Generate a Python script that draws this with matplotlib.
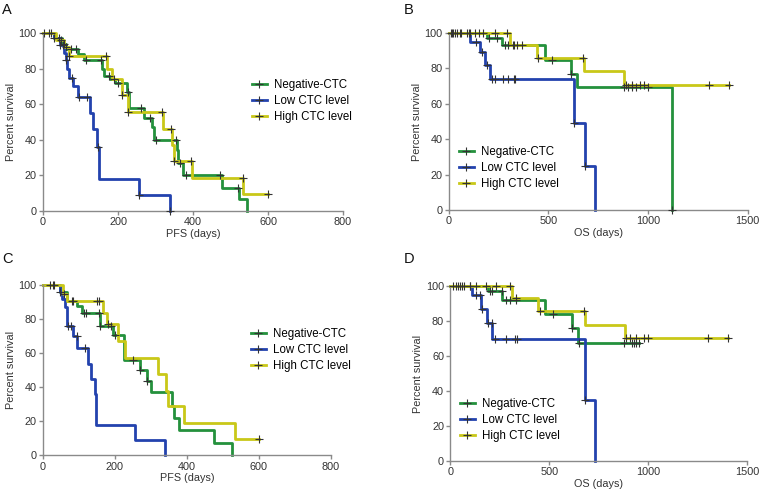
import matplotlib
matplotlib.use('Agg')
from matplotlib import pyplot as plt
from matplotlib.lines import Line2D
import numpy as np

plt.rcParams['font.family'] = ['Liberation Sans', 'DejaVu Sans']

labels = ['Negative-CTC', 'Low CTC level', 'High CTC level']
colors = ['#24913c', '#2342ae', '#c9c818']

# panel A: PFS, all patients  (event days, survival after event, censor days)
A_neg_t = [28, 50, 62, 92, 110, 157, 163, 179, 192, 223, 228, 268, 290, 296, 357, 361, 374, 476, 523, 543]
A_neg_s = [97, 94, 91, 88, 85, 80, 76, 74, 72, 67, 58, 52, 47, 40, 34, 27, 20, 13, 7, 0]
A_neg_c = [3, 15, 28, 42, 55, 75, 88, 115, 155, 175, 188, 200, 226, 262, 285, 300, 355, 365, 380, 472, 520]
A_low_t = [30, 45, 55, 60, 65, 70, 80, 92, 126, 134, 144, 148, 257, 339]
A_low_s = [97, 93, 89, 85, 80, 75, 70, 64, 55, 46, 36, 18, 9, 0]
A_low_c = [20, 45, 52, 62, 78, 95, 117, 146, 257, 339]
A_high_t = [35, 55, 68, 170, 184, 210, 226, 321, 343, 348, 396, 534]
A_high_s = [96, 92, 87, 80, 74, 65, 55.5, 46, 37, 28, 18.5, 9.5]
A_high_c = [48, 62, 70, 168, 210, 226, 318, 340, 348, 394, 532, 600]

# panel B: OS, all patients
B_neg_t = [192, 267, 485, 615, 644, 1120]
B_neg_s = [97, 93, 85, 77, 69.5, 0]
B_neg_c = [10, 20, 40, 60, 90, 100, 200, 240, 280, 300, 330, 370, 520, 615, 880, 900, 920, 940, 1000, 1120]
B_low_t = [109, 158, 184, 209, 627, 686, 736]
B_low_s = [95, 89, 82, 74, 49, 25, 0]
B_low_c = [135, 165, 190, 215, 230, 270, 300, 330, 335, 627, 686]
B_high_t = [309, 443, 677, 878]
B_high_s = [93, 86, 78.5, 70.5]
B_high_c = [15, 30, 55, 105, 130, 150, 170, 230, 290, 325, 345, 450, 675, 890, 920, 960, 980, 1304, 1405]

# panel C: PFS, subgroup
C_neg_t = [48, 67, 94, 108, 159, 196, 226, 270, 289, 300, 358, 364, 378, 476, 524]
C_neg_s = [96, 91, 88, 84, 76, 71, 56, 50, 44, 37, 29, 22, 15, 7, 0]
C_neg_c = [28, 48, 80, 85, 115, 120, 155, 160, 190, 200, 250, 270, 289]
C_low_t = [48, 53, 62, 67, 83, 96, 127, 133, 145, 148, 256, 338]
C_low_s = [96, 92, 87, 76, 70, 63, 54, 45, 36, 18, 9, 0]
C_low_c = [20, 30, 70, 78, 94, 118]
C_high_t = [57, 67, 168, 178, 210, 228, 319, 341, 349, 393, 534]
C_high_s = [95, 91, 84, 77, 67, 57.5, 48, 38, 29, 19, 9.5]
C_high_c = [60, 150, 155, 182, 600]

# panel D: OS, subgroup
D_neg_t = [190, 261, 480, 615, 644]
D_neg_s = [97, 92, 84, 76, 67.5]
D_neg_c = [15, 40, 60, 100, 200, 210, 260, 280, 300, 330, 520, 615, 650, 880, 920, 930, 940, 952]
D_low_t = [110, 157, 185, 211, 683, 733]
D_low_s = [95, 87, 79, 69.5, 35, 0]
D_low_c = [130, 150, 160, 190, 210, 225, 280, 325, 335, 683]
D_high_t = [312, 443, 683, 881]
D_high_s = [93, 86, 78, 70.5]
D_high_c = [30, 50, 70, 100, 130, 180, 230, 300, 330, 455, 675, 890, 910, 940, 980, 1000, 1304, 1405]

panels = [
    ('A', 'PFS (days)', 800, [0, 200, 400, 600, 800],
     [(A_neg_t, A_neg_s, A_neg_c), (A_low_t, A_low_s, A_low_c), (A_high_t, A_high_s, A_high_c)],
     [43, 33, 343, 211], (252, 79)),
    ('B', 'OS (days)', 1500, [0, 500, 1000, 1500],
     [(B_neg_t, B_neg_s, B_neg_c), (B_low_t, B_low_s, B_low_c), (B_high_t, B_high_s, B_high_c)],
     [448.7, 33, 747.7, 210], (459, 146)),
    ('C', 'PFS (days)', 800, [0, 200, 400, 600, 800],
     [(C_neg_t, C_neg_s, C_neg_c), (C_low_t, C_low_s, C_low_c), (C_high_t, C_high_s, C_high_c)],
     [42.7, 285.3, 331, 455.3], (251, 328)),
    ('D', 'OS (days)', 1500, [0, 500, 1000, 1500],
     [(D_neg_t, D_neg_s, D_neg_c), (D_low_t, D_low_s, D_low_c), (D_high_t, D_high_s, D_high_c)],
     [450.3, 286, 747, 461], (460, 398)),
]

W, H = 764, 492
fig = plt.figure(figsize=(W / 100, H / 100), dpi=100)


def surv_at(times, surv, t):
    s = 100.0
    for ti, si in zip(times, surv):
        if ti <= t:
            s = si
    return s


for letter, xlab, xmax, xticks, series, box, leg in panels:
    x0, y0, x1, y1 = box
    ax = fig.add_axes([x0 / W, 1 - y1 / H, (x1 - x0) / W, (y1 - y0) / H])
    for (t, s, c), col in zip(series, colors):
        end = t[-1] if s[-1] == 0 else max(max(c), t[-1])
        xs = [0] + list(t) + [end]
        ys = [100] + list(s) + [s[-1]]
        ax.step(xs, ys, where='post', color=col, lw=2.0, clip_on=False, zorder=2)
        cy = [surv_at(t, s, ci) for ci in c]
        ax.plot(c, cy, ls='none', marker='+', ms=5.5, mew=0.8, color='#333333',
                clip_on=False, zorder=3)
    ax.set_xlim(0, xmax)
    ax.set_ylim(0, 100)
    ax.set_xticks(xticks)
    ax.set_yticks([0, 20, 40, 60, 80, 100])
    for side in ['top', 'right']:
        ax.spines[side].set_visible(False)
    for side in ['left', 'bottom']:
        ax.spines[side].set_color('#8a8a8a')
        ax.spines[side].set_linewidth(1.0)
    ax.tick_params(colors='#8a8a8a', labelcolor='#333333', labelsize=7.8, length=3, width=1.0, pad=1.5)
    ax.set_xlabel(xlab, fontsize=7.8, color='#333333', labelpad=1)
    ax.set_ylabel('Percent survival', fontsize=7.8, color='#333333', labelpad=2)

    handles = [Line2D([0], [0], color=col, lw=2.0, marker='+', ms=5.5, mew=0.8,
                      markeredgecolor='#333333') for col in colors]
    ax.legend(handles, labels, loc='upper left', frameon=False, fontsize=8.3,
              bbox_to_anchor=(leg[0] / W, 1 - leg[1] / H), bbox_transform=fig.transFigure,
              borderpad=0, borderaxespad=0, handlelength=1.3, handletextpad=0.6,
              labelspacing=0.33)

    lx = 2 if letter in 'AC' else 404
    ly = 3 if letter in 'AB' else 252
    fig.text(lx / W, 1 - ly / H, letter, fontsize=10.5, va='top', ha='left', color='#111111')

fig.savefig('out.png', dpi=100)
